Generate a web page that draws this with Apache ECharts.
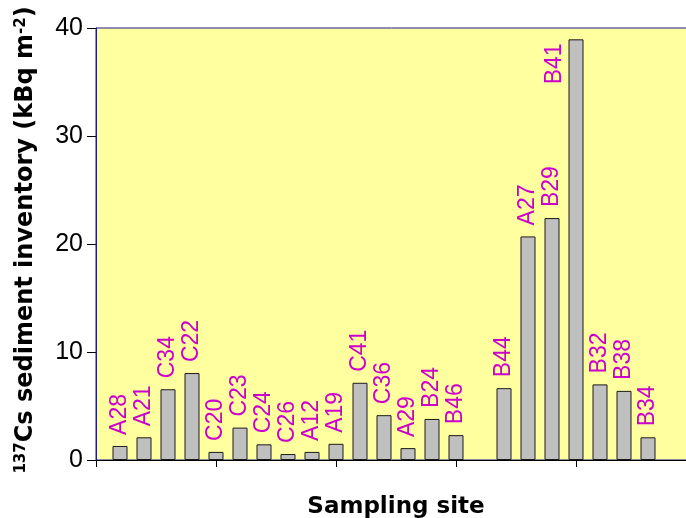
<!DOCTYPE html>
<html>
<head>
<meta charset="utf-8">
<script src="https://cdn.jsdelivr.net/npm/echarts@6/dist/echarts.min.js"></script>
<style>html,body{margin:0;padding:0;background:#fff;}#c{width:686px;height:518px;}</style>
</head>
<body>
<div id="c"></div>
<script>
// Sampling sites (blank entries are empty slots on the axis)
var sites = ['', 'A28', 'A21', 'C34', 'C22', 'C20', 'C23', 'C24', 'C26', 'A12', 'A19', 'C41', 'C36', 'A29', 'B24', 'B46', ' ', 'B44', 'A27', 'B29', 'B41', 'B32', 'B38', 'B34', '  ', '   '];
// 137Cs sediment inventory (kBq m-2)
var inventory = [null, 1.3, 2.1, 6.55, 8.05, 0.75, 3.0, 1.45, 0.55, 0.75, 1.5, 7.15, 4.15, 1.1, 3.8, 2.3, null, 6.65, 20.7, 22.4, 38.95, 7.0, 6.4, 2.1, null, null];
var yTicks = [0, 10, 20, 30, 40];

var chart = echarts.init(document.getElementById('c'), null, {renderer: 'canvas'});
var data = inventory.map(function (v, i) {
  var item = {value: v};
  if (sites[i] === 'B41') {
    item.label = {position: [-14, 4], align: 'right', verticalAlign: 'middle'};
  }
  return item;
});
chart.setOption({
  animation: false,
  grid: {left: 96, top: 28, width: 600, height: 432, outerBoundsMode: 'none', containLabel: false, show: true, backgroundColor: '#FFFF9F', borderColor: '#1C1C8C', borderWidth: 1},
  xAxis: {
    type: 'category', data: sites, boundaryGap: false,
    name: 'Sampling site', nameLocation: 'middle', nameGap: 36,
    nameTextStyle: {fontFamily: 'DejaVu Sans', fontWeight: 'bold', fontSize: 23, color: '#000'},
    axisLine: {lineStyle: {color: '#000', width: 1}},
    axisTick: {show: true, interval: 4, length: 7, lineStyle: {color: '#000'}},
    axisLabel: {show: false},
    splitLine: {show: false}
  },
  yAxis: {
    type: 'value', min: yTicks[0], max: yTicks[yTicks.length - 1], interval: 10,
    name: '{sup|137}Cs sediment inventory (kBq m{sup|-2})', nameLocation: 'middle', nameRotate: 90, nameGap: 58,
    nameTextStyle: {fontFamily: 'DejaVu Sans', fontWeight: 'bold', fontSize: 24, color: '#000', padding: [0, 0, 0, 8],
      rich: {sup: {fontFamily: 'DejaVu Sans', fontWeight: 'bold', fontSize: 15, verticalAlign: 'top', lineHeight: 15, color: '#000'}}},
    axisLine: {show: true, lineStyle: {color: '#1C1C8C', width: 1}},
    axisTick: {show: true, length: 9, lineStyle: {color: '#000'}},
    axisLabel: {fontFamily: 'Liberation Sans', fontSize: 25, color: '#000', margin: 13},
    splitLine: {show: false}
  },
  series: [{
    type: 'bar', data: data, barWidth: 15,
    itemStyle: {color: '#C0C0C0', borderColor: '#1a1a1a', borderWidth: 1},
    label: {show: true, formatter: '{b}', position: 'top', rotate: 90, align: 'left', verticalAlign: 'middle', distance: 11,
      fontFamily: 'Liberation Sans', fontSize: 23, color: '#CC00CC'}
  }]
});
</script>
</body>
</html>
